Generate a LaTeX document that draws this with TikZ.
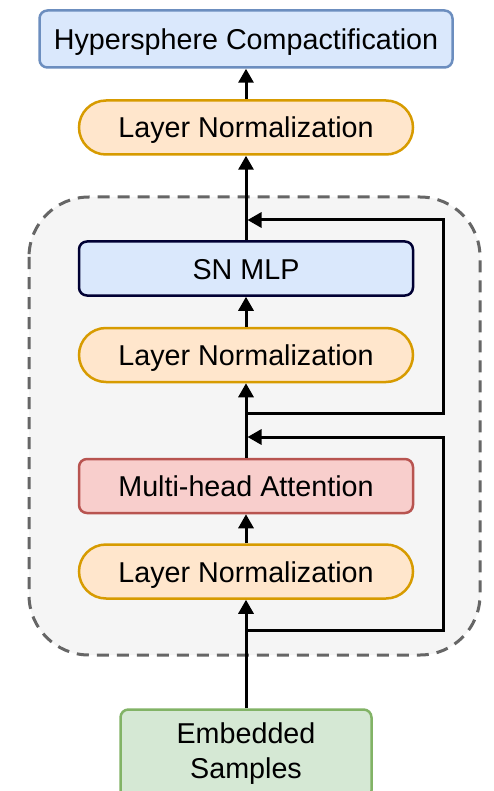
\documentclass[tikz,border=0pt]{standalone}
\usepackage{fontspec}
\setmainfont{Liberation Sans}
\usetikzlibrary{arrows.meta}
\definecolor{blueFill}{HTML}{DAE8FC}
\definecolor{blueLine}{HTML}{6C8EBF}
\definecolor{navyLine}{HTML}{000033}
\definecolor{orangeFill}{HTML}{FFE6CC}
\definecolor{orangeLine}{HTML}{D79B00}
\definecolor{redFill}{HTML}{F8CECC}
\definecolor{redLine}{HTML}{B85450}
\definecolor{greenFill}{HTML}{D5E8D4}
\definecolor{greenLine}{HTML}{82B366}
\definecolor{groupFill}{HTML}{F5F5F5}
\definecolor{groupLine}{HTML}{666666}
\tikzset{
  basebox/.style={draw, line width=2.5pt, rounded corners=8pt, minimum width=334pt,
    minimum height=54pt, inner sep=0pt, align=center,
    font=\fontsize{28.7}{35}\selectfont},
  block/.style={basebox, text height=27pt, text depth=6pt},
  normbox/.style={block, fill=orangeFill, draw=orangeLine, rounded corners=27pt},
  flow/.style={line width=3pt, -{Triangle[width=15pt,length=14pt]}},
  skip/.style={flow, line join=miter},
}
\begin{document}
\begin{tikzpicture}[x=1pt,y=-1pt]
  \clip (0,0) rectangle (493,791);
  \fill[white] (0,0) rectangle (493,791);

  % transformer block container
  \draw[fill=groupFill, draw=groupLine, line width=3pt, dash pattern=on 12pt off 8pt,
        rounded corners=60pt] (29,197) rectangle (480,655);

  % stages
  \node[block, fill=blueFill, draw=blueLine, minimum width=413pt, minimum height=57pt]
    (hyp) at (246,39) {Hypersphere Compactification};
  \node[normbox] (ln1) at (246,127.5) {Layer Normalization};
  \node[block, fill=blueFill, draw=navyLine] (mlp) at (246,268.5) {SN MLP};
  \node[normbox] (ln2) at (246,355) {Layer Normalization};
  \node[block, fill=redFill, draw=redLine] (mha) at (246,486) {Multi-head Attention};
  \node[normbox] (ln3) at (246,571.5) {Layer Normalization};
  \node[basebox, fill=greenFill, draw=greenLine, minimum width=251pt, minimum height=89pt]
    (emb) at (246,754) {Embedded\\Samples};

  % main path
  \draw[flow] (emb) -- (ln3);
  \draw[flow] (ln3) -- (mha);
  \draw[flow] (mha) -- (ln2);
  \draw[flow] (ln2) -- (mlp);
  \draw[flow] (mlp) -- (ln1);
  \draw[flow] (ln1) -- (hyp);

  % residual connections
  \coordinate (b2) at (246,630);
  \coordinate (r2b) at (443,630);
  \coordinate (r2t) at (443,437);
  \coordinate (j2) at (247.5,437);
  \draw[skip] (b2) -- (r2b) -- (r2t) -- (j2);

  \coordinate (b1) at (246,413);
  \coordinate (r1b) at (443,413);
  \coordinate (r1t) at (443,220);
  \coordinate (j1) at (247.5,220);
  \draw[skip] (b1) -- (r1b) -- (r1t) -- (j1);
\end{tikzpicture}
\end{document}
